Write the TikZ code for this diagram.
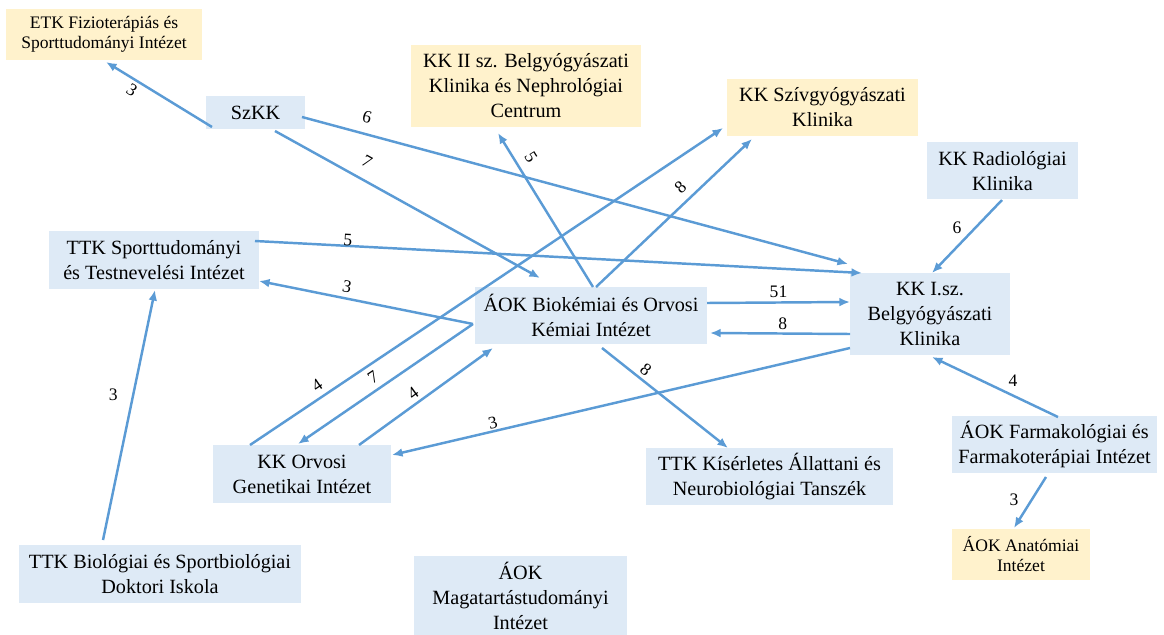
\documentclass[tikz,border=0pt]{standalone}
\usepackage{fontspec}
\setmainfont{Liberation Serif}
\usetikzlibrary{arrows.meta,calc}
\definecolor{boxblue}{RGB}{222,234,246}
\definecolor{boxyellow}{RGB}{255,242,204}
\definecolor{linkblue}{RGB}{91,155,213}

\begin{document}
\begin{tikzpicture}[x=0.02cm,y=-0.02cm,
  box/.style 2 args={fill=boxblue, inner sep=0pt, align=center,
    minimum width=#1*0.02cm, minimum height=#2*0.02cm,
    font=\fontsize{11.5}{14.2}\selectfont},
  ybox/.style 2 args={box={#1}{#2}, fill=boxyellow},
  smalltext/.style={font=\fontsize{10}{11.7}\selectfont},
  link/.style={draw=linkblue, line width=1.4pt, -{Latex[length=6pt,width=5pt]}},
  num/.style={font=\fontsize{10}{12}\selectfont, inner sep=1pt}]
  \useasboundingbox (0,0) rectangle (1164,635);

  % Boxes
  \node[ybox={196}{51}, smalltext] (etk) at (104,34.5) {ETK Fizioterápiás és\\Sporttudományi Intézet};
  \node[box={99}{33}] (szkk) at (255.5,112.5) {SzKK};
  \node[ybox={230}{82}] (kkii) at (526,86) {KK II sz. Belgyógyászati\\Klinika és Nephrológiai\\Centrum};
  \node[ybox={191}{57}] (sziv) at (822.5,107.5) {KK Szívgyógyászati\\Klinika};
  \node[box={151}{57}] (radio) at (1002.5,171) {KK Radiológiai\\Klinika};
  \node[box={210}{58}] (ttksport) at (154,260) {TTK Sporttudományi\\és Testnevelési Intézet};
  \node[box={232}{57}] (bio) at (591,315.5) {ÁOK Biokémiai és Orvosi\\Kémiai Intézet};
  \node[box={160}{82}] (kki) at (930,314) {KK I.sz.\\Belgyógyászati\\Klinika};
  \node[box={205}{57}] (farm) at (1054.5,444.5) {ÁOK Farmakológiai és\\Farmakoterápiai Intézet};
  \node[ybox={138}{51}, smalltext] (anat) at (1021,554) {ÁOK Anatómiai\\Intézet};
  \node[box={178}{58}] (genet) at (302,474) {KK Orvosi\\Genetikai Intézet};
  \node[box={247}{57}] (kiserl) at (769.5,476.5) {TTK Kísérletes Állattani és\\Neurobiológiai Tanszék};
  \node[box={282}{58}] (biol) at (160,574) {TTK Biológiai és Sportbiológiai\\Doktori Iskola};
  \node[box={213}{79}] (magat) at (520.5,595.5) {ÁOK\\Magatartástudományi\\Intézet};

  % Links
  \draw[link] ($(szkk.center)+(-43.5,14.5)$) -- ($(etk.center)+(2,27.5)$)
    node[num, pos=0.755, shift={(0,12)}, rotate=-33] {3};
  \draw[link] ($(szkk.center)+(46.5,4.5)$) -- ($(kki.center)+(-82,-50)$)
    node[num, pos=0.119, shift={(0,-17.5)}, rotate=-15] {6};
  \draw[link] ($(szkk.center)+(19.5,18.5)$) -- ($(bio.center)+(-51,-37.5)$)
    node[num, pos=0.347, shift={(0,-20)}, rotate=-29] {7};
  \draw[link] ($(bio.center)+(2,-28.5)$) -- ($(kkii.center)+(-28,47)$)
    node[num, pos=0.843, shift={(18,0)}, rotate=-58] {5};
  \draw[link] ($(bio.center)+(5,-28.5)$) -- ($(sziv.center)+(-70.5,31.5)$)
    node[num, pos=0.676, shift={(-21,0)}, rotate=43] {8};
  \draw[link] ($(ttksport.center)+(101,-19)$) -- ($(kki.center)+(-68,-41)$)
    node[num, pos=0.153, shift={(0,-6)}, rotate=-3] {5};
  \draw[link] ($(bio.center)+(-118,8.5)$) -- ($(ttksport.center)+(105,21)$)
    node[num, pos=0.589, shift={(0,-11.7)}, rotate=-11] {3};
  \draw[link] ($(bio.center)+(-118,8.5)$) -- ($(genet.center)+(-4,-30)$)
    node[num, pos=0.571, shift={(0,-15)}, rotate=34] {7};
  \draw[link] ($(genet.center)+(-52,-29)$) -- ($(sziv.center)+(-99.5,20.5)$)
    node[num, pos=0.1417, shift={(0,-15)}, rotate=34] {4};
  \draw[link] ($(genet.center)+(57,-29)$) -- ($(bio.center)+(-98,32.5)$)
    node[num, pos=0.403, shift={(0,-13)}, rotate=36] {4};
  \draw[link] ($(kki.center)+(-80,34)$) -- ($(genet.center)+(90,-19)$)
    node[num, pos=0.78, shift={(0,-9)}, rotate=13] {3};
  \draw[link] ($(bio.center)+(116,-12.5)$) -- ($(kki.center)+(-80,-12)$)
    node[num, pos=0.5, shift={(0,-11)}] {51};
  \draw[link] ($(kki.center)+(-80,20)$) -- ($(bio.center)+(119,17.5)$)
    node[num, pos=0.48, shift={(0,-10)}] {8};
  \draw[link] ($(bio.center)+(11,32.5)$) -- ($(kiserl.center)+(-41.5,-28.5)$)
    node[num, pos=0.349, shift={(0,-13)}, rotate=-38] {8};
  \draw[link] ($(radio.center)+(-0.5,29)$) -- ($(kki.center)+(2,-41)$)
    node[num, pos=0.384, shift={(-18,0)}] {6};
  \draw[link] ($(farm.center)+(3.5,-27.5)$) -- ($(kki.center)+(2,43)$)
    node[num, pos=0.357, shift={(0,-14.6)}] {4};
  \draw[link] ($(farm.center)+(-8.5,32.5)$) -- ($(anat.center)+(-7,-26)$)
    node[num, pos=0.45, shift={(-17.6,0)}] {3};
  \draw[link] ($(biol.center)+(-57,-34)$) -- ($(ttksport.center)+(1,30)$)
    node[num, pos=0.58, shift={(-20,0)}] {3};
\end{tikzpicture}
\end{document}
